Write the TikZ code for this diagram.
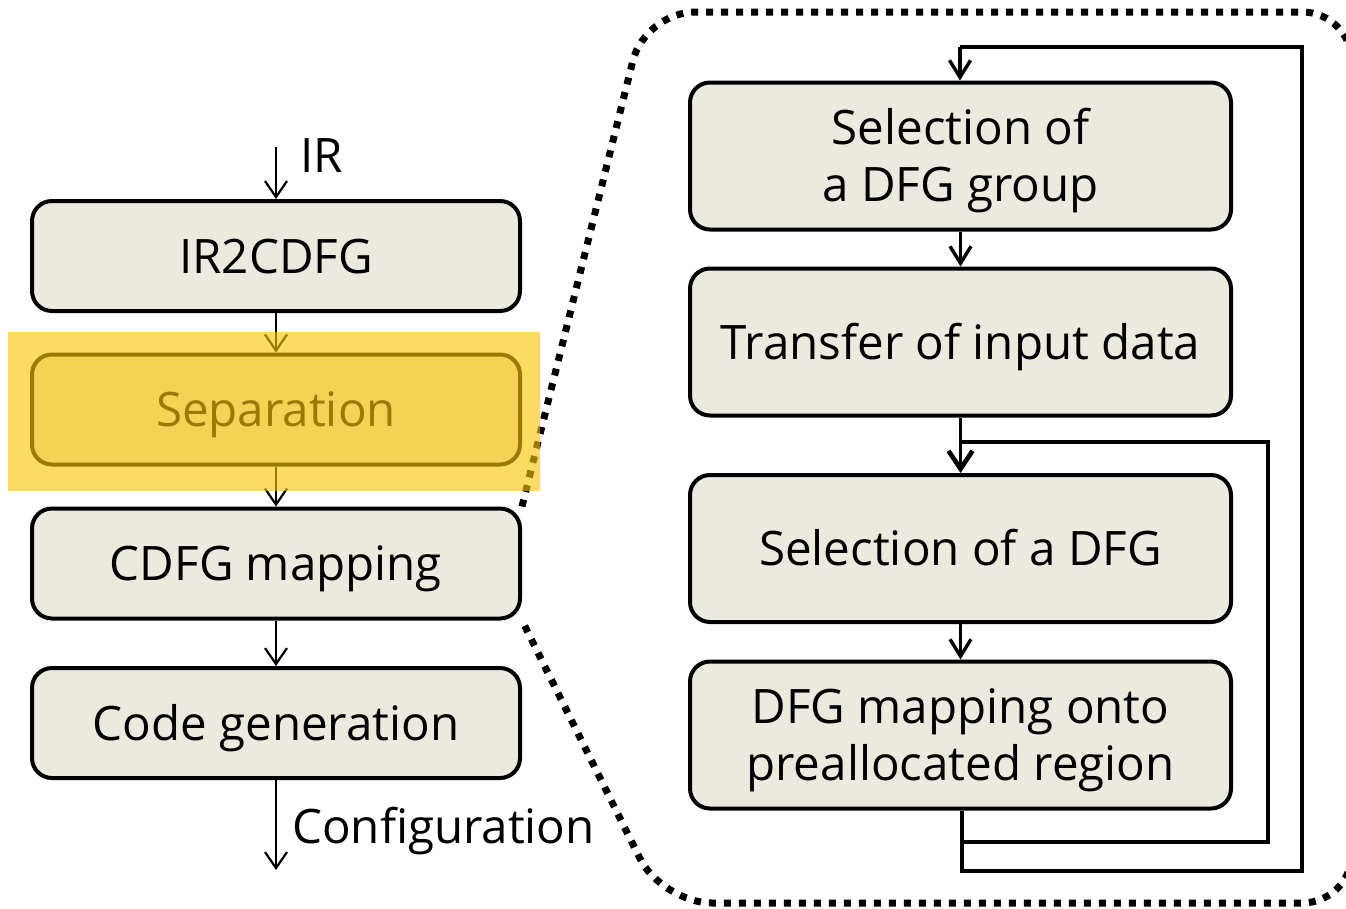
\documentclass[tikz,border=0pt]{standalone}
\usepackage{fontspec}
\setmainfont{Open Sans}
\usetikzlibrary{arrows.meta}
\definecolor{boxfill}{RGB}{236,233,223}
\definecolor{hilite}{RGB}{252,196,0}

\begin{document}
\begin{tikzpicture}[x=1pt,y=-1pt,
  % text box runs from cap height to the last baseline, so the caps sit centred
  stage/.style={draw=black, line width=4pt, rounded corners=20pt, fill=boxfill,
    inner sep=0pt, align=center, text height=34pt, text depth=0pt,
    font=\fontsize{47.5}{57}\selectfont},
  twoline/.style={text height=91pt},
  leftbox/.style={stage, minimum width=488pt, minimum height=110pt},
  rightbox/.style={stage, minimum width=541pt, minimum height=147pt},
  label/.style={inner sep=0pt, font=\fontsize{47.5}{57}\selectfont},
  thinarr/.style={line width=2.2pt,
    -{Straight Barb[length=16pt,width=22pt,line width=2.2pt]}},
  flowarr/.style={line width=3.2pt,
    -{Straight Barb[length=17pt,width=21pt,line width=3.4pt]}},
  looparr/.style={line width=3.2pt},
  dotborder/.style={line width=7pt, dash pattern=on 7pt off 8pt,
    rounded corners=50pt},
]
\useasboundingbox (0,0) rectangle (1346,908);

% left column: compilation stages
\node[leftbox] (ir2cdfg) at (276,256)   {IR2CDFG};
\node[leftbox] (sep)     at (276,409.5) {Separation};
\node[leftbox] (cdfgmap) at (276,563.5) {CDFG mapping};
\node[leftbox] (codegen) at (276,723)   {Code generation};

\coordinate (irin)   at (276,147);
\coordinate (cfgout) at (276,870);
\node[label, anchor=base west] (irlbl)  at (300,172) {IR};
\node[label, anchor=base west] (cfglbl) at (292,843) {Configuration};

\draw[thinarr] (irin) -- (ir2cdfg.north);
\draw[thinarr] (ir2cdfg) -- (sep);
\draw[thinarr] (sep) -- (cdfgmap);
\draw[thinarr] (cdfgmap) -- (codegen);
\draw[thinarr] (codegen.south) -- (cfgout);

% right column: detail of the separation step
\node[rightbox, twoline] (selgrp) at (960.5,156) {Selection of\\a DFG group};
\node[rightbox] (transfer) at (960.5,342)   {Transfer of input data};
\node[rightbox] (seldfg)   at (960.5,548.5) {Selection of a DFG};
\node[rightbox, twoline] (dfgmap) at (960.5,735)
  {DFG mapping onto\\preallocated region};

\coordinate (innerbl) at (962,842);
\coordinate (innerbr) at (1268,842);
\coordinate (innertr) at (1268,442);
\coordinate (innertl) at (962,442);
\coordinate (outerbl) at (962,871);
\coordinate (outerbr) at (1302,871);
\coordinate (outertr) at (1302,47);
\coordinate (outertl) at (960,47);

\draw[flowarr] (selgrp) -- (transfer);
\draw[flowarr, -{Straight Barb[length=18pt,width=24pt,line width=4.6pt]}]
  (transfer) -- (seldfg);
\draw[flowarr] (seldfg) -- (dfgmap);

% inner loop: next DFG of the group
\draw[looparr] (dfgmap.south -| innerbl) -- (innerbl) -- (innerbr)
  -- (innertr) -- (innertl);
% outer loop: next DFG group
\draw[looparr] (innerbl) -- (outerbl) -- (outerbr) -- (outertr) -- (outertl);
\draw[flowarr] (outertl) -- (selgrp.north -| outertl);

% dotted zoom outline around the detail
\draw[dotborder] (cdfgmap.north east) -- (645,12) -- (1352,12)
  -- (1352,903) -- (662,903) -- (cdfgmap.south east);

% highlight over the separation step
\fill[hilite, opacity=0.62] (8,332) rectangle (540,491);
\end{tikzpicture}
\end{document}
